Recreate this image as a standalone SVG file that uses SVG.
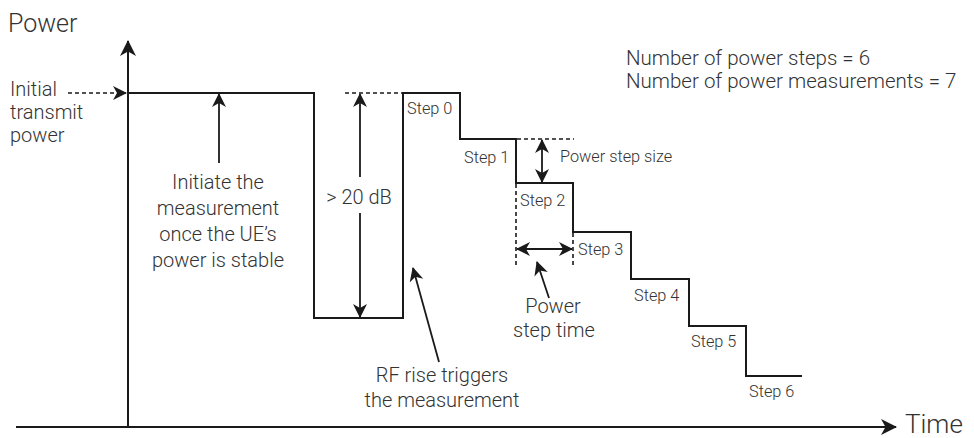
<svg xmlns="http://www.w3.org/2000/svg" width="974" height="438" viewBox="0 0 974 438">
<defs>
<marker id="ah" markerUnits="userSpaceOnUse" markerWidth="18" markerHeight="18" refX="15" refY="8" orient="auto-start-reverse">
<path d="M0,0 L16,8 L0,16 L4.5,8 z" fill="#1a1a1a"/>
</marker>
<marker id="ahs" markerUnits="userSpaceOnUse" markerWidth="16" markerHeight="16" refX="13" refY="7" orient="auto-start-reverse">
<path d="M0,0 L14,7 L0,14 L4,7 z" fill="#1a1a1a"/>
</marker>
<style>
text{font-family:Roboto,"Liberation Sans",sans-serif;font-weight:300;fill:#333}
.t20{font-size:20px}
.t16{font-size:16.3px}
.mid{text-anchor:middle}
.ln{stroke:#1a1a1a;stroke-width:2;fill:none}
.thin{stroke:#1a1a1a;stroke-width:1.8;fill:none}
.dash{stroke:#1a1a1a;stroke-width:1.6;fill:none;stroke-dasharray:4 3}
</style>
</defs>
<g id="axes">
<line class="ln" x1="16" y1="427" x2="896" y2="427" marker-end="url(#ah)"/>
<line class="ln" x1="128" y1="427" x2="128" y2="41" marker-end="url(#ah)"/>
<text x="8" y="32" style="font-size:25px">Power</text>
<text x="905" y="433" style="font-size:26px">Time</text>
</g>
<g id="trace">
<path class="ln" d="M128,93 H314 V318 H403 V93 H460 V139 H516 V183 H573 V232 H631 V279 H689 V326 H746 V376 H802"/>
</g>
<g id="connectors">
<line class="dash" x1="68" y1="93" x2="126" y2="93" marker-end="url(#ahs)"/>
<line class="dash" x1="345" y1="93" x2="402" y2="93"/>
<line class="dash" x1="517" y1="139" x2="574" y2="139"/>
<line class="dash" x1="516" y1="184" x2="516" y2="266"/>
<line class="dash" x1="573" y1="233" x2="573" y2="266"/>
<line class="thin" x1="360" y1="177" x2="360" y2="94" marker-end="url(#ahs)"/>
<line class="thin" x1="360" y1="213" x2="360" y2="317" marker-end="url(#ahs)"/>
<line class="thin" x1="542" y1="140" x2="542" y2="182" marker-start="url(#ahs)" marker-end="url(#ahs)"/>
<line class="thin" x1="517" y1="249" x2="572" y2="249" marker-start="url(#ahs)" marker-end="url(#ahs)"/>
<line class="thin" x1="219" y1="163" x2="219" y2="94" marker-end="url(#ahs)"/>
<line class="thin" x1="439" y1="362" x2="413" y2="268" marker-end="url(#ahs)"/>
<line class="thin" x1="549" y1="298" x2="537" y2="262" marker-end="url(#ahs)"/>
</g>
<g id="label-initial">
<text class="t20" x="10" y="96">Initial</text>
<text class="t20" x="10" y="119">transmit</text>
<text class="t20" x="10" y="142">power</text>
</g>
<g id="label-counts">
<text class="t20" x="626" y="65" style="font-size:20.5px">Number of power steps = 6</text>
<text class="t20" x="626" y="88" style="font-size:20.5px">Number of power measurements = 7</text>
</g>
<g id="label-initiate">
<text class="t20 mid" x="218" y="189">Initiate the</text>
<text class="t20 mid" x="218" y="215">measurement</text>
<text class="t20 mid" x="218" y="241">once the UE’s</text>
<text class="t20 mid" x="218" y="267">power is stable</text>
</g>
<g id="label-20db">
<text class="t20 mid" x="359" y="204">&gt; 20 dB</text>
</g>
<g id="label-rf">
<text class="t20 mid" x="442" y="382">RF rise triggers</text>
<text class="t20 mid" x="442" y="407">the measurement</text>
</g>
<g id="label-steptime">
<text class="t20 mid" x="553" y="313">Power</text>
<text class="t20 mid" x="554" y="337">step time</text>
</g>
<g id="label-stepsize">
<text class="t16" x="560" y="162">Power step size</text>
</g>
<g id="steps">
<text class="t16" x="407" y="114">Step 0</text>
<text class="t16" x="464" y="163">Step 1</text>
<text class="t16" x="520" y="206">Step 2</text>
<text class="t16" x="578" y="255">Step 3</text>
<text class="t16" x="634" y="301">Step 4</text>
<text class="t16" x="691" y="347">Step 5</text>
<text class="t16" x="749" y="397">Step 6</text>
</g>
</svg>
